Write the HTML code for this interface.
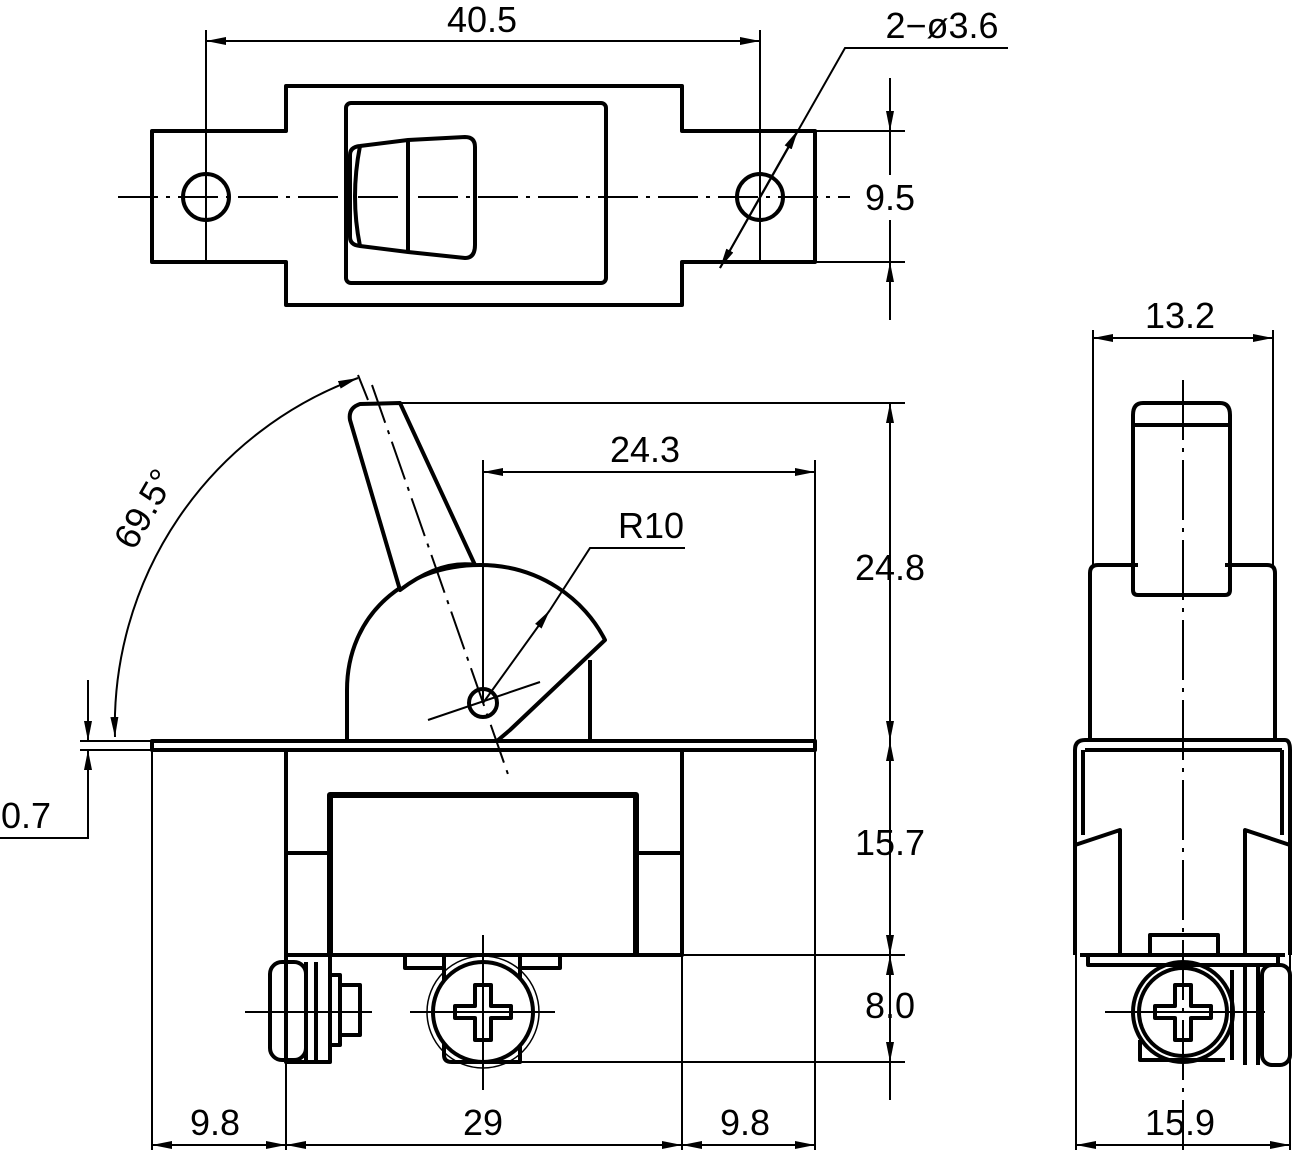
<!DOCTYPE html>
<html><head><style>body{margin:0;background:#fff}svg{display:block}text{font-family:"Liberation Sans",sans-serif;font-size:36px;fill:#000}</style></head><body>
<svg width="1296" height="1156" viewBox="0 0 1296 1156" xmlns="http://www.w3.org/2000/svg">
<defs><marker id="a" viewBox="0 0 20 8" refX="20" refY="4" markerWidth="20" markerHeight="8" orient="auto-start-reverse" markerUnits="userSpaceOnUse"><path d="M0,0L20,4L0,8z" fill="#000"/></marker></defs>
<g fill="none" stroke="#000" stroke-width="4" stroke-linejoin="round">
<path d="M152,131H286V86H682V131H815V262H682V305H286V262H152Z"/>
<rect x="346" y="103" width="260" height="180" rx="5"/>
<path d="M350,155Q350,147 360,146L408,140L465,137Q475,137 475,147V245Q475,258 465,258L408,252L360,246Q350,245 350,237Z"/>
<path d="M408,140V252M360,146Q350,197 360,246"/>
<circle cx="206" cy="197" r="23"/><circle cx="760" cy="197" r="23"/>
<rect x="152" y="741" width="663" height="9"/>
<path d="M286,750V955H682V750"/>
<path d="M330,955V795H636V955" stroke-width="6"/>
<path d="M286,853H330M636,853H682"/>
<path d="M347,741V690C347,615 405,565 480,565C540,565 585,600 605,640L510,730L497,741"/>
<path d="M590,741V660"/>
<path d="M350,420Q348,408 360,404L400,403L475,565Q440,560 400,590Z" fill="#fff"/>
<circle cx="483" cy="703" r="14"/>
<path d="M286,955V1062H330V955M336,955H405M562,955H636"/>
<path d="M405,955V968H444V955M520,955V968H560V955" />
<rect x="270" y="962" width="36" height="98" rx="12"/>
<path d="M306,962V1060M316,962V1060M328,975H340V1045H328M340,985H360V1035H340"/>
<path d="M444,965V1055Q444,1062 452,1062H520V965"/>
<circle cx="483" cy="1012" r="50" fill="#fff"/>
<circle cx="483" cy="1012" r="56" stroke-width="1.5"/>
<path d="M455,1006H475V985H491V1006H511V1018H491V1040H475V1018H455Z"/>
<path d="M1133,590V415Q1133,403 1143,403H1220Q1230,403 1230,415V590Q1230,595 1225,595H1138Q1133,595 1133,590Z"/>
<path d="M1133,425H1230"/>
<path d="M1090,740V573Q1090,565 1098,565H1138M1225,565H1267Q1275,565 1275,573V740"/>
<path d="M1085,740Q1075,740 1075,750V845L1120,830V955M1290,750V845L1245,830V955M1285,740Q1290,740 1290,750"/>
<path d="M1085,740H1285M1083,750V835M1282,750V835M1085,750H1282"/>
<path d="M1075,845V955M1290,845V955M1080,955H1285M1088,955V965H1278V955"/>
<path d="M1150,955V935H1218V955"/>
<circle cx="1183" cy="1012" r="50"/><circle cx="1183" cy="1012" r="44"/>
<path d="M1155,1006H1175V985H1191V1006H1211V1018H1191V1040H1175V1018H1155Z"/>
<path d="M1140,1040V1060H1225M1232,970V1060M1245,965V1065M1258,965V1065"/>
<rect x="1262" y="965" width="28" height="100" rx="10"/>
</g>
<g fill="none" stroke="#000" stroke-width="2">
<path d="M118,197H850" stroke-dasharray="40,8,4,8"/>
<path d="M206,30V262M760,30V262"/>
<path d="M206,41H760" marker-start="url(#a)" marker-end="url(#a)"/>
<path d="M720,268L845,48H1008"/>
<path d="M760,197L798,130" marker-end="url(#a)"/>
<path d="M760,197L720,268" marker-end="url(#a)"/>
<path d="M815,131H905M815,262H905"/>
<path d="M890,78V131" marker-end="url(#a)"/><path d="M890,320V262" marker-end="url(#a)"/>
<path d="M890,131V175M890,220V262"/>
<path d="M400,403H905M682,955H905M520,1062H905"/>
<path d="M890,403V741" marker-start="url(#a)" marker-end="url(#a)"/>
<path d="M890,741V955" marker-start="url(#a)" marker-end="url(#a)"/>
<path d="M890,955V1062" marker-start="url(#a)" marker-end="url(#a)"/>
<path d="M890,1062V1100"/>
<path d="M483,460V700M815,460V741"/>
<path d="M483,472H815" marker-start="url(#a)" marker-end="url(#a)"/>
<path d="M483,703L550,610" marker-end="url(#a)"/><path d="M550,610L590,548H685"/>
<path d="M372,385L510,780" stroke-dasharray="40,8,4,8"/>
<path d="M428,720L540,682"/>
<path d="M358,375L368,400"/>
<path d="M115,737A370,370 0 0 1 358,378" marker-start="url(#a)" marker-end="url(#a)"/>
<path d="M80,741H152M80,750H152"/>
<path d="M88,680V741" marker-end="url(#a)"/><path d="M88,800V750" marker-end="url(#a)"/>
<path d="M88,800V838H0"/>
<path d="M152,750V1150M286,1060V1150M682,955V1150M815,750V1150"/>
<path d="M152,1145H286" marker-start="url(#a)" marker-end="url(#a)"/>
<path d="M286,1145H682" marker-start="url(#a)" marker-end="url(#a)"/>
<path d="M682,1145H815" marker-start="url(#a)" marker-end="url(#a)"/>
<path d="M245,1012H372M410,1012H555M483,935V1090"/>
<path d="M1093,330V565M1273,330V565"/>
<path d="M1093,338H1273" marker-start="url(#a)" marker-end="url(#a)"/>
<path d="M1183,380V1150" stroke-dasharray="60,8,4,8"/>
<path d="M1105,1012H1265"/>
<path d="M1076,955V1150M1290,955V1150"/>
<path d="M1076,1145H1290" marker-start="url(#a)" marker-end="url(#a)"/>
</g>
<g text-anchor="middle">
<text x="482" y="32">40.5</text>
<text x="942" y="38">2−ø3.6</text>
<text x="890" y="210">9.5</text>
<text x="645" y="462">24.3</text>
<text x="651" y="538">R10</text>
<text x="890" y="580">24.8</text>
<text x="890" y="855">15.7</text>
<text x="890" y="1018">8.0</text>
<text x="215" y="1135">9.8</text>
<text x="483" y="1135">29</text>
<text x="745" y="1135">9.8</text>
<text x="26" y="828">0.7</text>
<text x="1180" y="328">13.2</text>
<text x="1180" y="1135">15.9</text>
<text x="155" y="515" transform="rotate(-60 155 515)">69.5°</text>
</g>
</svg>
</body></html>
